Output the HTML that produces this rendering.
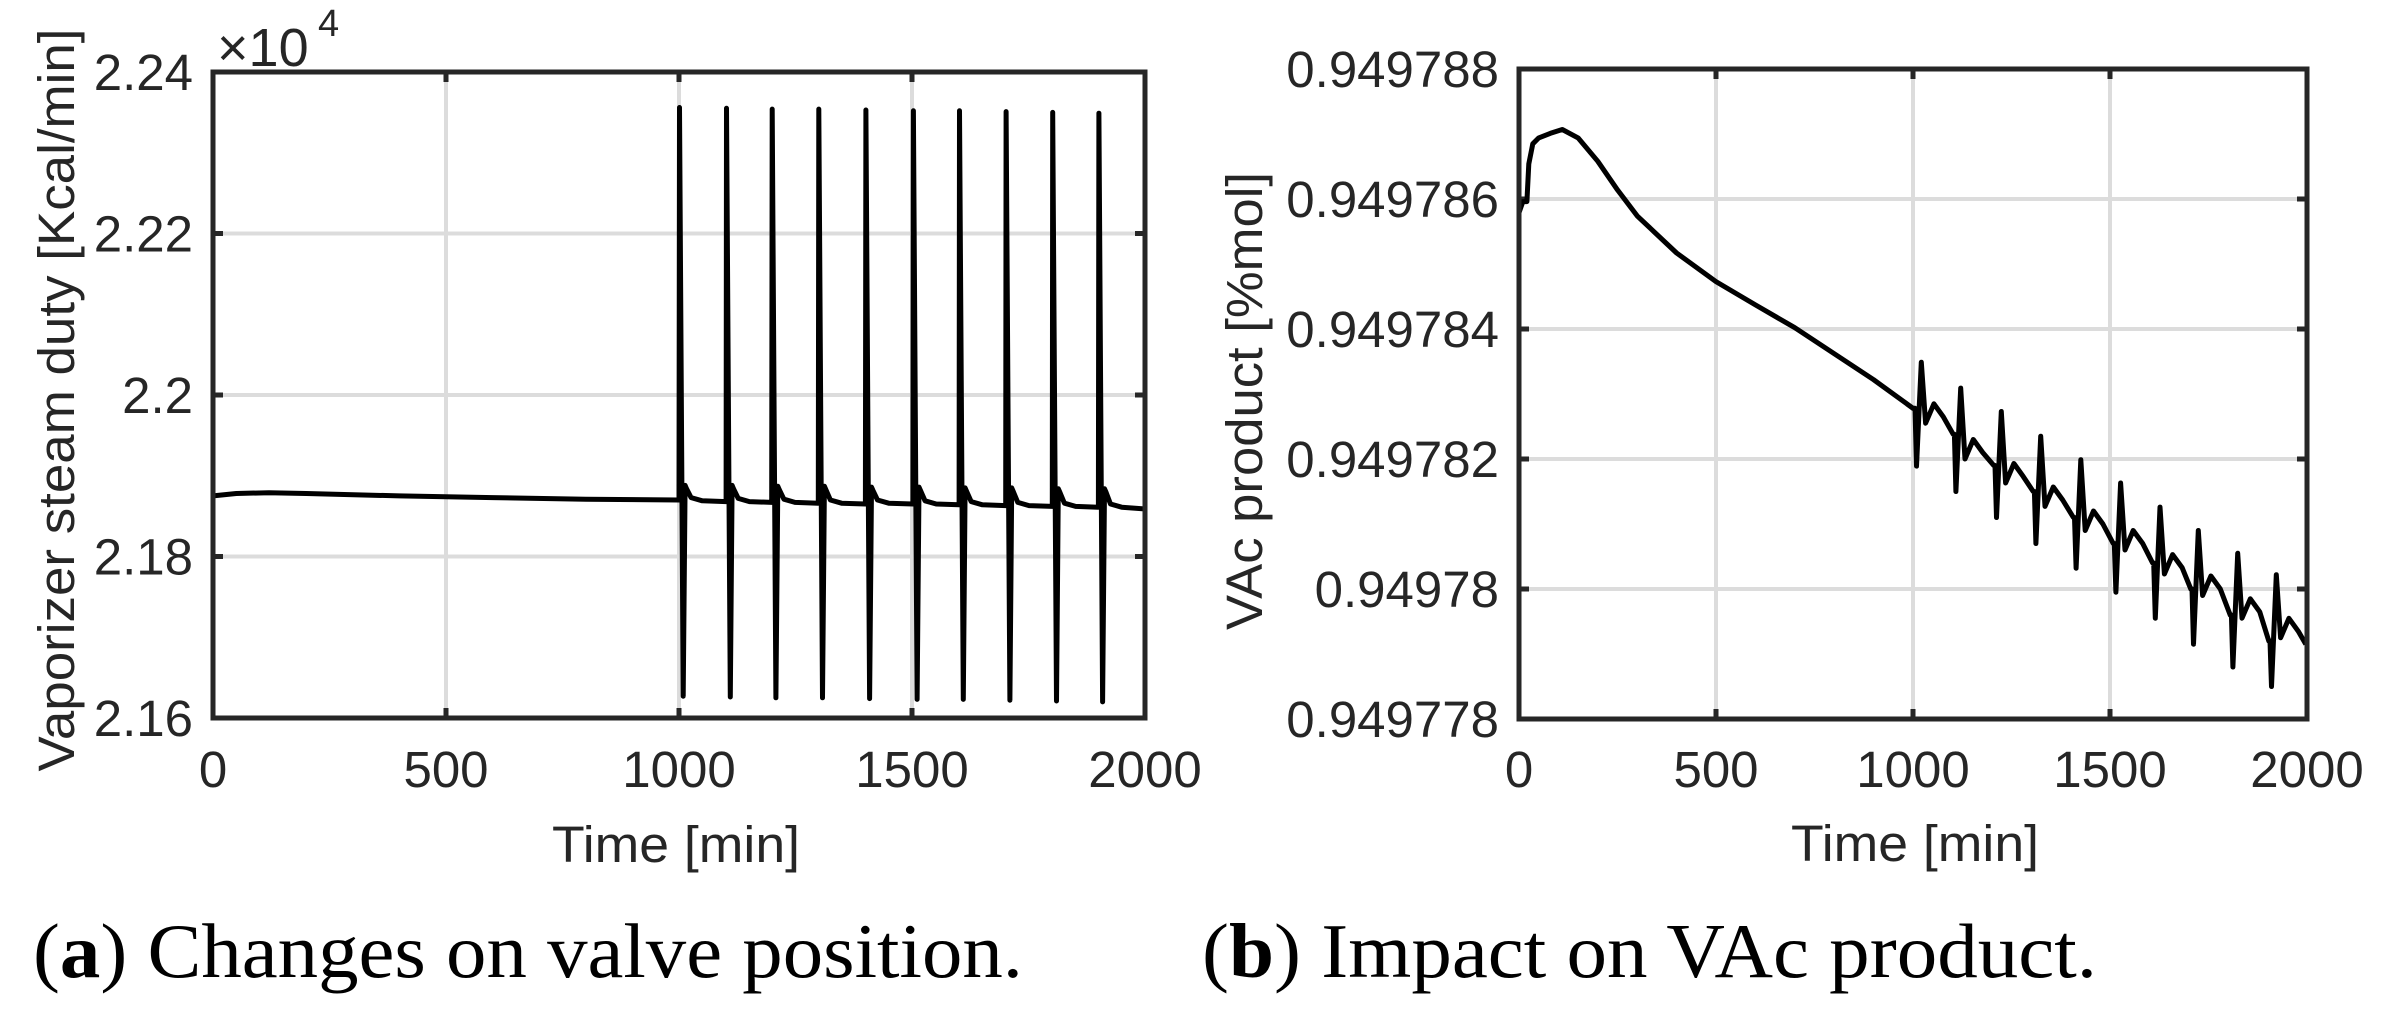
<!DOCTYPE html>
<html><head><meta charset="utf-8"><style>
html,body{margin:0;padding:0;background:#fff;}
svg{display:block;}
text{font-family:"Liberation Sans",sans-serif;fill:#262626;}
.cap{font-family:"Liberation Serif",serif;fill:#000;}
</style></head><body>
<svg id="fig" width="2387" height="1024" viewBox="0 0 2387 1024" xmlns="http://www.w3.org/2000/svg">
<g id="pa"></g>
<g id="pb"></g>
<text class="cap" x="33" y="977" font-size="77" textLength="990" lengthAdjust="spacingAndGlyphs">(<tspan font-weight="bold">a</tspan>) Changes on valve position.</text>
<text class="cap" x="1202" y="977" font-size="77" textLength="895" lengthAdjust="spacingAndGlyphs">(<tspan font-weight="bold">b</tspan>) Impact on VAc product.</text>
</svg>
<script>
// ---- Chart A data ----
const aXTicks = [0, 500, 1000, 1500, 2000];
const aYTicks = [2.16, 2.18, 2.2, 2.22, 2.24];
const aYTickLabels = ["2.16", "2.18", "2.2", "2.22", "2.24"];
const aPreTimes = [0, 50, 120, 200, 400, 600, 800, 1000];
const aPreValues = [2.1875, 2.1878, 2.1879, 2.1878, 2.1875, 2.1873, 2.1871, 2.1870];
const aSpikeTimes = [1000, 1101, 1199, 1299, 1400, 1502, 1601, 1701, 1801, 1900];
const aSpikePeaks = [2.2356, 2.2355, 2.2354, 2.2354, 2.2353, 2.2352, 2.2352, 2.2351, 2.2350, 2.2349];
const aSpikeTroughs = [2.1627, 2.1626, 2.1625, 2.1625, 2.1624, 2.1623, 2.1623, 2.1622, 2.1621, 2.1620];
const aBumps = [2.1888, 2.1888, 2.1887, 2.1887, 2.1886, 2.1886, 2.1885, 2.1885, 2.1884, 2.1884];
const aSettle = [2.1868, 2.1867, 2.1866, 2.1865, 2.1865, 2.1864, 2.1863, 2.1862, 2.1861, 2.1860];
const aEnd = 2.1859;

// ---- Chart B data ----
const bXTicks = [0, 500, 1000, 1500, 2000];
const bYTicks = [0.949778, 0.94978, 0.949782, 0.949784, 0.949786, 0.949788];
const bYTickLabels = ["0.949778", "0.94978", "0.949782", "0.949784", "0.949786", "0.949788"];
const bPreTimes = [0, 10, 20, 25, 35, 50, 80, 110, 150, 200, 250, 300, 400, 500, 600, 700, 800, 900, 1000];
const bPreValues = [0.94978579, 0.94978596, 0.94978596, 0.94978654, 0.94978685, 0.94978694, 0.94978701, 0.94978707, 0.94978694, 0.94978658, 0.94978614, 0.94978574, 0.94978517, 0.94978473, 0.94978437, 0.94978402, 0.94978362, 0.94978322, 0.94978278];
const bCycleTimes = [1005, 1105, 1208, 1308, 1410, 1511, 1611, 1708, 1808, 1906];
const bCyclePre = [0.94978278, 0.94978238, 0.94978190, 0.94978150, 0.94978110, 0.94978070, 0.94978040, 0.94978000, 0.94977960, 0.94977920];
const bTroughs = [0.94978189, 0.94978150, 0.94978110, 0.94978070, 0.94978032, 0.94977995, 0.94977955, 0.94977915, 0.94977880, 0.94977850];
const bPeaks = [0.94978349, 0.94978309, 0.94978273, 0.94978235, 0.94978199, 0.94978163, 0.94978126, 0.94978090, 0.94978055, 0.94978022];
const bSettle = [0.94978255, 0.94978200, 0.94978163, 0.94978127, 0.94978090, 0.94978060, 0.94978023, 0.94977990, 0.94977955, 0.94977925];
const bEnd = 0.94977915;

const NS = "http://www.w3.org/2000/svg";
function mk(parent, tag, attrs, txt) {
  const e = document.createElementNS(NS, tag);
  for (const k in attrs) e.setAttribute(k, attrs[k]);
  if (txt !== undefined) e.textContent = txt;
  parent.appendChild(e);
  return e;
}

function drawAxes(g, box, xmin, xmax, ymin, ymax, xTicks, yTicks, yLabels, labelRight) {
  const sx = v => box.l + (v - xmin) / (xmax - xmin) * (box.r - box.l);
  const sy = v => box.b - (v - ymin) / (ymax - ymin) * (box.b - box.t);
  xTicks.forEach(t => {
    const x = sx(t);
    if (t !== xmin && t !== xmax) {
      const gl = mk(g, "line", {x1: x, x2: x, y1: box.t, y2: box.b, stroke: "#dcdcdc", "stroke-width": 4});
      
      
    }
    const tk = mk(g, "path", {d: `M${x} ${box.b}v-10M${x} ${box.t}v10`, stroke: "#262626", "stroke-width": 5});
    
    
    const lb = mk(g, "text", {x: x, y: 787, "font-size": 51, "text-anchor": "middle"}, String(t));
    
    
  });
  yTicks.forEach((t, i) => {
    const y = sy(t);
    if (i !== 0 && i !== yTicks.length - 1) {
      const gl = mk(g, "line", {x1: box.l, x2: box.r, y1: y, y2: y, stroke: "#dcdcdc", "stroke-width": 4});
      
      
    }
    const tk = mk(g, "path", {d: `M${box.l} ${y}h10M${box.r} ${y}h-10`, stroke: "#262626", "stroke-width": 5});
    
    
    const lb = mk(g, "text", {x: labelRight, y: y + 18, "font-size": 51, "text-anchor": "end"}, yLabels[i]);
    
    
  });
  return {sx, sy};
}
function drawBox(g, box) {
  const r = mk(g, "rect", {x: box.l, y: box.t, width: box.r - box.l, height: box.b - box.t, fill: "none", stroke: "#262626", "stroke-width": 5});
  
  
}

// ---- Chart A ----
(function () {
  const g = document.getElementById("pa");
  const box = {l: 213, r: 1145, t: 72, b: 718};
  const {sx, sy} = drawAxes(g, box, 0, 2000, 2.16, 2.24, aXTicks, aYTicks, aYTickLabels, 193);
  const pts = [];
  aPreTimes.forEach((t, i) => pts.push([t, aPreValues[i]]));
  aSpikeTimes.forEach((t, i) => {
    pts.push([t + 1, aSpikePeaks[i]]);
    pts.push([t + 9, aSpikeTroughs[i]]);
    pts.push([t + 13, aBumps[i]]);
    pts.push([t + 16, aBumps[i] - 0.0004]);
    pts.push([t + 26, aSettle[i] + 0.0005]);
    pts.push([t + 50, aSettle[i] + 0.0001]);
    const nt = i + 1 < aSpikeTimes.length ? aSpikeTimes[i + 1] : 2000;
    pts.push([nt, i + 1 < aSpikeTimes.length ? aSettle[i] : aEnd]);
  });
  const d = pts.map((p, i) => (i ? "L" : "M") + sx(p[0]).toFixed(1) + " " + sy(p[1]).toFixed(1)).join("");
  const ln = mk(g, "path", {d: d, fill: "none", stroke: "#000", "stroke-width": 5, "stroke-linejoin": "round"});
  
  
  drawBox(g, box);
  const yl = mk(g, "text", {x: 0, y: 0, "font-size": 51, "text-anchor": "middle", transform: "translate(74 400) rotate(-90)", textLength: 743, lengthAdjust: "spacingAndGlyphs"}, "Vaporizer steam duty [Kcal/min]");
  
  
  const xl = mk(g, "text", {x: 676, y: 862, "font-size": 51, "text-anchor": "middle", textLength: 248, lengthAdjust: "spacingAndGlyphs"}, "Time [min]");
  
  
  const ex = mk(g, "text", {x: 217, y: 66, "font-size": 54}, "×10");
  
  
  const ex4 = mk(g, "text", {x: 318, y: 36, "font-size": 38}, "4");
  
  
})();

// ---- Chart B ----
(function () {
  const g = document.getElementById("pb");
  const box = {l: 1519, r: 2307, t: 69, b: 719};
  const {sx, sy} = drawAxes(g, box, 0, 2000, 0.949778, 0.949788, bXTicks, bYTicks, bYTickLabels, 1499);
  const pts = [];
  bPreTimes.forEach((t, i) => pts.push([t, bPreValues[i]]));
  bCycleTimes.forEach((t, i) => {
    pts.push([t, bCyclePre[i]]);
    pts.push([t + 4, bTroughs[i]]);
    pts.push([t + 16, bPeaks[i]]);
    pts.push([t + 27, bSettle[i]]);
    pts.push([t + 48, bSettle[i] + 0.0000003]);
    pts.push([t + 72, bSettle[i] + 0.0000001]);
    const nt = i + 1 < bCycleTimes.length ? bCycleTimes[i + 1] : 2000;
    pts.push([nt - 3, i + 1 < bCycleTimes.length ? bCyclePre[i + 1] : bEnd]);
  });
  const d = pts.map((p, i) => (i ? "L" : "M") + sx(p[0]).toFixed(1) + " " + sy(p[1]).toFixed(1)).join("");
  const ln = mk(g, "path", {d: d, fill: "none", stroke: "#000", "stroke-width": 5, "stroke-linejoin": "round"});
  
  
  drawBox(g, box);
  const yl = mk(g, "text", {x: 0, y: 0, "font-size": 51, "text-anchor": "middle", transform: "translate(1262 401) rotate(-90)", textLength: 458, lengthAdjust: "spacingAndGlyphs"}, "VAc product [%mol]");
  
  
  const xl = mk(g, "text", {x: 1915, y: 861, "font-size": 51, "text-anchor": "middle", textLength: 248, lengthAdjust: "spacingAndGlyphs"}, "Time [min]");
  
  
})();
</script>
</body></html>
